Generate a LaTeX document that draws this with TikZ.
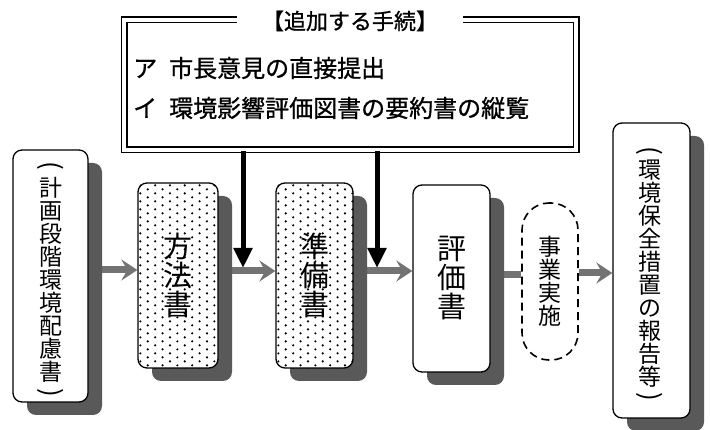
\documentclass[tikz,border=0pt]{standalone}
\usepackage{fontspec}
\newfontfamily\jp{Noto Sans CJK JP}
\newfontfamily\jpb[FakeBold=0.9]{Noto Sans CJK JP}
\usetikzlibrary{arrows.meta,shadows,backgrounds}
\newcommand{\dotsin}[1]{%
  \begin{scope}
    \clip[rounded corners=9pt] (#1.north west) rectangle (#1.south east);
    \foreach \i in {0,...,11}{\foreach \j in {0,...,24}{
      \pgfmathsetmacro{\dx}{\i*7.4+3}
      \pgfmathsetmacro{\dy}{\j*8+mod(\i,2)*4+3}
      \fill ([shift={(\dx,\dy)}]#1.north west) circle (1.2pt);}}
  \end{scope}}
\begin{document}
\begin{tikzpicture}[x=1pt,y=-1pt,
  sbox/.style={draw=black, line width=1.3pt, rounded corners=9pt, fill=white, inner sep=0pt,
    drop shadow={shadow xshift=14pt, shadow yshift=-13pt, fill=black!65, opacity=1}},
  vt/.style={align=center, inner sep=0pt, font=\jp\fontsize{#1}{#1}\selectfont},
  paren/.style={inner sep=0pt, rotate=-90, font=\jp\fontsize{26}{26}\selectfont},
  garrow/.style={draw=black!55, line width=7pt, -{Stealth[length=16pt,width=21pt,inset=6pt]}},
  gline/.style={draw=black!55, line width=7pt},
  barrow/.style={draw=black, line width=5pt, -{Triangle[length=20pt,width=18pt]}},
  lst/.style={anchor=west, inner sep=0pt, font=\jpb\fontsize{24}{24}\selectfont}
]
\useasboundingbox (0,0) rectangle (710,430);

% additional procedures box
\node[draw=black, double, double distance=4pt, line width=1.5pt, minimum width=452pt, minimum height=130pt, inner sep=0pt] (tb) at (350,85) {};
\node[fill=white, minimum width=226pt, minimum height=16pt, inner sep=0pt, font=\jpb\fontsize{22}{22}\selectfont] (title) at (350,21) {【追加する手続】};
\node[lst] (la) at (133,68) {ア\hspace{12pt}市長意見の直接提出};
\node[lst] (li) at (133,108) {イ\hspace{12pt}環境影響評価図書の要約書の縦覧};

% boxes
\node[sbox, minimum width=75pt, minimum height=252pt] (lb) at (50.5,276) {};
\node[paren] (lbp1) at (50.5,166) {(};
\node[vt=23] (lbt) at (50.5,280) {計\\画\\段\\階\\環\\境\\配\\慮\\書};
\node[paren] (lbp2) at (50.5,393) {)};

\node[sbox, minimum width=80pt, minimum height=185pt] (fh) at (178,275.5) {};
\dotsin{fh}
\node[vt=29] (fht) at (fh) {方\\法\\書};

\node[sbox, minimum width=77pt, minimum height=185pt] (jb) at (314.5,275.5) {};
\dotsin{jb}
\node[vt=29] (jbt) at (jb) {準\\備\\書};

\node[sbox, minimum width=77pt, minimum height=187pt] (ev) at (451.5,278.5) {};
\node[vt=29] (evt) at (ev) {評\\価\\書};

\node[draw=black, dashed, dash pattern=on 8pt off 5pt, line width=1.6pt, rounded corners=27pt, fill=white, minimum width=56pt, minimum height=157pt, inner sep=0pt] (jj) at (550,281.5) {};
\node[vt=23] (jjt) at (jj) {事\\業\\実\\施};

\node[sbox, minimum width=77pt, minimum height=295pt] (rb) at (651.5,270.5) {};
\node[paren] (rbp1) at (650,151) {(};
\node[vt=23] (rbt) at (650,274) {環\\境\\保\\全\\措\\置\\の\\報\\告\\等};
\node[paren] (rbp2) at (650,397) {)};

% gray flow arrows
\coordinate (r1) at (0,270);
\coordinate (r2) at (0,271);
\coordinate (r4) at (0,275);
\coordinate (r5) at (0,273);
\begin{scope}[on background layer]
\draw[garrow] (lb.east |- r1) -- (fh.west |- r1);
\draw[garrow] (fh.east |- r2) -- (jb.west |- r2);
\draw[garrow] (jb.east |- r2) -- (ev.west |- r2);
\draw[gline] (ev.east |- r4) -- (jj.west |- r4);
\end{scope}
\draw[garrow] (jj.east |- r5) -- (rb.west |- r5);

% black arrows from the procedures box
\coordinate (v1) at (243,268);
\coordinate (v2) at (377,268);
\draw[barrow] (tb.south -| v1) -- (v1);
\draw[barrow] (tb.south -| v2) -- (v2);
\end{tikzpicture}
\end{document}
